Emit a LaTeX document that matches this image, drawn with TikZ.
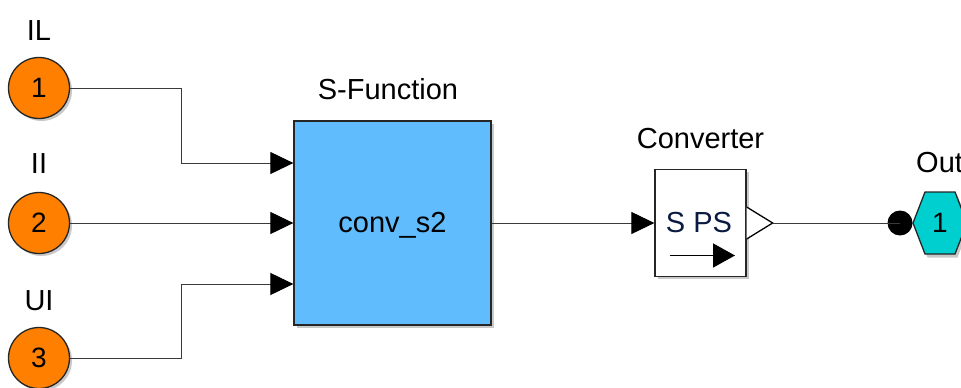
\documentclass[tikz,border=0pt]{standalone}
\usepackage{fontspec}
\setmainfont{Liberation Sans}
\usetikzlibrary{arrows.meta,shadows}
\definecolor{inport}{HTML}{FF8000}
\definecolor{sfunblue}{HTML}{60BCFC}
\definecolor{outport}{HTML}{00CFCF}
\definecolor{wire}{HTML}{3A3A3A}
\definecolor{psblue}{HTML}{0A1A40}
\tikzset{
  lbl/.style={anchor=base,font=\fontsize{29}{33}\selectfont,inner sep=0pt},
  portnum/.style={font=\fontsize{28}{32}\selectfont},
  blockshadow/.style={drop shadow={shadow xshift=2.5pt,shadow yshift=-2.5pt,opacity=0.35,fill=black!60}},
  inportbox/.style={circle,draw=black!85,line width=1.3pt,fill=inport,minimum size=61pt,inner sep=0pt,blockshadow,portnum},
  sig/.style={draw=wire,line width=1pt},
  inarrow/.style={-{Triangle[length=23pt,width=22pt,color=black]}},
}
\begin{document}
\begin{tikzpicture}[x=1pt,y=-1pt]
\useasboundingbox (0,0) rectangle (961,388);
\clip (0,0) rectangle (961,388);
\fill[white] (0,0) rectangle (961,388);

% inports
\node[inportbox] (in1) at (39,88) {1};
\node[inportbox] (in2) at (39,223) {2};
\node[inportbox] (in3) at (39,358) {3};
\node[lbl] (lIL) at (39,40) {IL};
\node[lbl] (lII) at (39,173) {II};
\node[lbl] (lUI) at (39,310) {UI};

% S-Function block
\node[draw=black!85,line width=1.3pt,fill=sfunblue,minimum width=197pt,minimum height=204pt,
      inner sep=0pt,blockshadow] (sfun) at (392.5,223) {};
\node[lbl] (sfuntxt) at (392.5,232) {conv\_s2};
\node[lbl] (sfunlbl) at (388,99) {S-Function};
% input ports of the S-Function (canvas y grows downwards here, shifts are upward-positive)
\coordinate (p1) at ([yshift=60pt]sfun.west);
\coordinate (p2) at (sfun.west);
\coordinate (p3) at ([yshift=-61pt]sfun.west);

% Converter block
\node[draw=black!85,line width=1.3pt,fill=white,minimum width=91pt,minimum height=107pt,
      inner sep=0pt,blockshadow] (conv) at (700.5,223) {};
\node[lbl,text=psblue] (convtxt) at (699,232) {S PS};
\node[lbl] (convlbl) at (700.5,148) {Converter};
\draw[line width=1.6pt,-{Triangle[length=22pt,width=24pt]}] (670,255.5) -- (735,255.5);
% physical output port (open triangle)
\coordinate (convout) at ([xshift=26pt]conv.east);
\draw[line width=1.3pt,fill=white,line join=miter]
  ([yshift=-16pt]conv.east) -- (convout) -- ([yshift=16pt]conv.east);

% Outport with connection dot
\fill[black!60,opacity=0.35] (915.5,226.5) -- (927.5,195.5) -- (957.5,195.5) -- (969.5,226.5) -- (957.5,257.5) -- (927.5,257.5) -- cycle;
\draw[draw=black!85,line width=1.3pt,fill=outport] (913,223) -- (925,192) -- (955,192) -- (967,223) -- (955,254) -- (925,254) -- cycle;
\node[portnum] (outnum) at (940,223) {1};
\node[circle,fill=black,minimum size=25pt,inner sep=0pt] (dot) at (900,223) {};
\node[lbl,anchor=base west] (outlbl) at (916,172) {Out1};

% signal lines
\draw[sig,inarrow] (in1.east) -- (181,88) |- (p1);
\draw[sig,inarrow] (in2.east) -- (p2);
\draw[sig,inarrow] (in3.east) -- (181,358) |- (p3);
\draw[sig,inarrow] (sfun.east) -- (conv.west);
\draw[sig] (convout) -- (dot.center);
\end{tikzpicture}
\end{document}
